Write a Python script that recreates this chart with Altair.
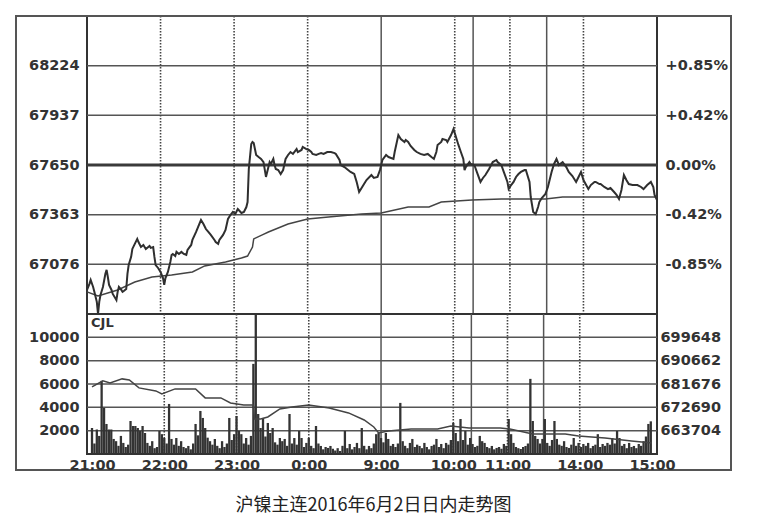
import altair as alt
import pandas as pd

# ---------------- axes / ticks ----------------
# x = trading minutes since 21:00 (night 21:00-1:00, day 9:00-10:15, 10:30-11:30, 13:30-15:00)
time_ticks = [0, 60, 120, 180, 240, 300, 345, 405, 465]
time_labels = ["21:00", "22:00", "23:00", "0:00", "9:00", "10:00", "11:00", "14:00", "15:00"]
dotted_min = [60, 120, 180, 300, 345, 405]
solid_min = [240, 315, 375]

price_ticks = [67076, 67363, 67650, 67937, 68224]
pct_labels = ["-0.85%", "-0.42%", "0.00%", "+0.42%", "+0.85%"]
base_price = [67650]
price_domain = [66789, 68511]

vol_ticks = [2000, 4000, 6000, 8000, 10000]
vol_domain = [0, 12000]
oi_ticks = [663704, 672690, 681676, 690662, 699648]
oi_domain = [654718, 708634]

caption = "沪镍主连2016年6月2日日内走势图"

# ---------------- series ----------------
price_min = [0, 2, 3, 5, 6, 8, 9, 10, 11, 13, 15, 16, 17, 18, 20, 21, 23, 24, 25, 26,
             28, 29, 30, 32, 33, 34, 36, 37, 39, 41, 42, 44, 46, 48, 51, 52, 54, 55, 56, 58,
             60, 62, 63, 64, 66, 68, 69, 70, 72, 73, 75, 77, 79, 81, 82, 85, 86, 89, 91, 93,
             95, 97, 99, 101, 104, 105, 107, 108, 111, 113, 115, 117, 119, 121, 123, 126, 128, 130, 131, 132,
             134, 135, 136, 138, 140, 142, 144, 146, 148, 149, 150, 152, 153, 154, 156, 158, 160, 162, 164, 166,
             168, 171, 172, 175, 176, 179, 181, 183, 184, 187, 189, 191, 193, 196, 199, 202, 203, 206, 207, 210,
             213, 215, 218, 220, 222, 224, 226, 228, 232, 234, 237, 239, 240, 241, 244, 246, 250, 251, 254, 256,
             259, 260, 262, 264, 267, 269, 272, 275, 278, 281, 283, 285, 286, 289, 290, 293, 294, 297, 299, 301,
             303, 305, 307, 308, 309, 312, 313, 316, 318, 321, 323, 325, 328, 331, 334, 335, 338, 340, 343, 344,
             346, 348, 350, 352, 354, 357, 358, 361, 362, 364, 366, 368, 369, 371, 374, 376, 377, 379, 381, 383,
             385, 387, 388, 391, 393, 396, 399, 401, 403, 405, 409, 411, 414, 415, 418, 419, 422, 425, 427, 430,
             432, 434, 436, 438, 440, 442, 445, 449, 452, 454, 457, 460, 462, 463, 465]
price_val = [66928, 66963, 66986, 66945, 66917, 66859, 66790, 66859, 66899, 66945, 67021, 67044, 67003, 66957, 66928, 66905, 66882, 66870, 66917, 66945,
             66928, 66917, 66922, 66934, 67021, 67072, 67119, 67165, 67194, 67223, 67205, 67176, 67188, 67165, 67182, 67171, 67176, 67119, 67072, 67055,
             67032, 66997, 66957, 66997, 67032, 67090, 67130, 67136, 67124, 67148, 67136, 67148, 67136, 67130, 67159, 67188, 67217, 67263, 67298, 67332,
             67309, 67280, 67263, 67246, 67217, 67205, 67194, 67217, 67246, 67275, 67338, 67361, 67379, 67367, 67396, 67373, 67379, 67407, 67436, 67627,
             67771, 67783, 67777, 67708, 67696, 67685, 67667, 67581, 67638, 67667, 67656, 67685, 67650, 67627, 67621, 67598, 67621, 67685, 67708, 67725,
             67714, 67742, 67725, 67737, 67754, 67742, 67737, 67725, 67714, 67708, 67714, 67719, 67714, 67725, 67725, 67719, 67714, 67679, 67650, 67638,
             67621, 67610, 67598, 67552, 67494, 67517, 67540, 67563, 67592, 67575, 67581, 67621, 67650, 67679, 67708, 67696, 67685, 67725, 67823, 67800,
             67783, 67794, 67783, 67760, 67737, 67725, 67714, 67708, 67714, 67696, 67685, 67725, 67766, 67783, 67800, 67794, 67783, 67823, 67858, 67812,
             67766, 67725, 67685, 67621, 67638, 67667, 67656, 67650, 67610, 67552, 67575, 67592, 67627, 67667, 67679, 67667, 67650, 67610, 67552, 67511,
             67534, 67552, 67581, 67598, 67610, 67621, 67621, 67552, 67465, 67379, 67367, 67407, 67436, 67459, 67483, 67523, 67552, 67610, 67656, 67685,
             67650, 67662, 67667, 67638, 67610, 67586, 67552, 67581, 67610, 67563, 67511, 67534, 67552, 67552, 67540, 67540, 67523, 67511, 67517, 67494,
             67477, 67454, 67506, 67592, 67563, 67540, 67534, 67534, 67523, 67511, 67534, 67552, 67523, 67477, 67448]

avg_min = [0, 9, 25, 39, 53, 69, 86, 96, 113, 126, 131, 135, 136, 143, 148, 164, 180, 197, 224, 240,
           262, 279, 289, 314, 338, 374, 388, 465]
avg_val = [66917, 66893, 66928, 66974, 67003, 67015, 67032, 67067, 67090, 67113, 67124, 67176, 67223, 67246, 67263, 67309, 67338, 67350, 67367, 67373,
           67407, 67407, 67436, 67448, 67454, 67454, 67465, 67465]

oi_min = [0, 9, 15, 25, 31, 39, 53, 58, 69, 86, 94, 107, 115, 126, 134, 135, 140, 146, 156, 166,
          180, 197, 213, 226, 234, 238, 246, 265, 287, 298, 313, 339, 347, 366, 393, 404, 426, 448, 465]
oi_val = [680560, 682874, 682103, 683646, 683260, 680174, 679017, 677860, 679789, 679789,
          676317, 676317, 674389, 673617, 673617, 668218, 668218, 668989, 672075, 672846,
          673617, 672460, 670532, 667832, 665132, 662818, 663589, 664361, 664361, 665518,
          664746, 664746, 664361, 662432, 662432, 661661, 660889, 659732, 658961]

# volume per 2-minute slot
vol_val = [2230, 900, 2100, 1550, 6270, 3950, 2575, 2100, 2100, 1290, 1100, 700, 1550, 950, 600, 800, 2830, 2400, 2400, 2230,
           1970, 2400, 1800, 950, 700, 1100, 500, 600, 1970, 1700, 1370, 900, 4290, 1290, 800, 1370, 700, 1100, 600, 500,
           690, 400, 900, 2575, 1600, 3690, 3090, 2230, 1400, 1100, 800, 1290, 700, 500, 1100, 600, 900, 3090, 1200, 1700,
           3260, 1970, 1700, 900, 1370, 800, 1550, 7725, 12500, 3430, 2230, 3090, 1500, 2660, 1800, 2230, 1000, 800, 1370, 1100,
           1290, 700, 3430, 900, 1370, 800, 1970, 1370, 600, 950, 1370, 700, 500, 2400, 900, 690, 400, 600, 520, 690,
           450, 300, 500, 260, 700, 1970, 500, 860, 400, 600, 950, 500, 2230, 700, 400, 690, 500, 900, 1700, 1800,
           1370, 1000, 1800, 1290, 700, 860, 600, 900, 4380, 1100, 700, 500, 950, 1290, 600, 800, 690, 500, 950, 600,
           400, 690, 800, 1290, 600, 860, 500, 950, 800, 1200, 2660, 1800, 1100, 3000, 1200, 1970, 800, 1370, 860, 600,
           700, 1550, 1100, 950, 600, 500, 690, 400, 520, 600, 450, 860, 700, 3000, 1700, 950, 600, 500, 430, 600,
           690, 900, 6440, 2830, 1550, 1290, 900, 1290, 3000, 950, 700, 1200, 2830, 1290, 800, 700, 1100, 600, 520, 800,
           1370, 700, 950, 600, 860, 700, 950, 500, 690, 800, 1700, 600, 860, 700, 950, 800, 1370, 900, 1970, 1370,
           700, 860, 500, 950, 600, 690, 500, 860, 700, 1100, 1500, 2575, 2800]
vol_min = list(range(0, 2 * len(vol_val), 2))

assert len(price_min) == len(price_val)
assert len(avg_min) == len(avg_val)
assert len(oi_min) == len(oi_val)

# ---------------- styling ----------------
FONT = "DejaVu Sans"
INK = "#333333"
GRID = "#555555"
W, PH, VH = 570, 298, 140


def expr_map(vals, labels):
    e = "''"
    for v, l in zip(vals, labels):
        e = f"datum.value == {v} ? '{l}' : ({e})"
    return e


price_df = pd.DataFrame({"m": price_min, "p": price_val})
avg_df = pd.DataFrame({"m": avg_min, "p": avg_val})
oi_df = pd.DataFrame({"m": oi_min, "o": oi_val})
vol_df = pd.DataFrame({"m": vol_min, "v": vol_val})
ptick_df = pd.DataFrame({"p": price_ticks})
base_df = pd.DataFrame({"p": base_price})
vtick_df = pd.DataFrame({"v": vol_ticks})
dotted_df = pd.DataFrame({"m": dotted_min})
solid_df = pd.DataFrame({"m": solid_min})

xs = alt.Scale(domain=[0, 465], nice=False, zero=False)
ps = alt.Scale(domain=price_domain, nice=False, zero=False)
vs = alt.Scale(domain=vol_domain, nice=False, zero=False)
os_ = alt.Scale(domain=oi_domain, nice=False, zero=False)

# ---------------- price panel ----------------
X_P = alt.X("m:Q", scale=xs, axis=None, title=None)
left_axis = alt.Axis(values=price_ticks, format="d", orient="left", labelPadding=8)
right_axis = alt.Axis(values=price_ticks, orient="right", labelPadding=8,
                      labelExpr=expr_map(price_ticks, pct_labels))

p_grid = alt.Chart(ptick_df).mark_rule(color=GRID, strokeWidth=1.5).encode(
    y=alt.Y("p:Q", scale=ps, axis=right_axis, title=None))
p_dot = alt.Chart(dotted_df).mark_rule(color="#444444", strokeWidth=1.6, strokeDash=[1.5, 1.5]).encode(x=X_P)
p_sol = alt.Chart(solid_df).mark_rule(color=GRID, strokeWidth=1.5).encode(x=X_P)
p_base = alt.Chart(base_df).mark_rule(color="#3a3a3a", strokeWidth=3).encode(
    y=alt.Y("p:Q", scale=ps, axis=None))
p_avg = alt.Chart(avg_df).mark_line(color="#444444", strokeWidth=1.5).encode(
    x=X_P, y=alt.Y("p:Q", scale=ps, axis=None))
p_line = alt.Chart(price_df).mark_line(color="#2f2f2f", strokeWidth=2).encode(
    x=X_P, y=alt.Y("p:Q", scale=ps, axis=left_axis, title=None))
frame = alt.Chart(alt.Data(values=[{}])).mark_rect(
    fillOpacity=0, stroke="#555555", strokeWidth=2, clip=False).encode(
    x=alt.value(-71), x2=alt.value(644), y=alt.value(0), y2=alt.value(454))

price_panel = alt.layer(p_grid, p_dot, p_sol, p_base, p_avg, p_line, frame).resolve_scale(
    y="independent").properties(width=W, height=PH)

# ---------------- volume panel ----------------
x_axis = alt.Axis(values=time_ticks, orient="bottom", labelPadding=4, labelFlush=False,
                  labelOverlap=False, labelExpr=expr_map(time_ticks, time_labels))
X_V = alt.X("m:Q", scale=xs, axis=x_axis, title=None)

v_grid = alt.Chart(vtick_df).mark_rule(color=GRID, strokeWidth=1.5).encode(
    y=alt.Y("v:Q", scale=vs, axis=None))
v_dot = alt.Chart(dotted_df).mark_rule(color="#444444", strokeWidth=1.6, strokeDash=[1.5, 1.5]).encode(x=X_V)
v_sol = alt.Chart(solid_df).mark_rule(color=GRID, strokeWidth=1.5).encode(x=X_V)
v_bars = alt.Chart(vol_df).mark_bar(size=2.3, color="#333333", clip=True).encode(
    x=X_V,
    y=alt.Y("v:Q", scale=vs, title=None,
            axis=alt.Axis(values=vol_ticks, format="d", orient="left", labelPadding=8)))
v_oi = alt.Chart(oi_df).mark_line(color="#444444", strokeWidth=1.5).encode(
    x=X_V,
    y=alt.Y("o:Q", scale=os_, title=None,
            axis=alt.Axis(values=oi_ticks, format="d", orient="right", labelPadding=3)))
cjl = alt.Chart(alt.Data(values=[{}])).mark_text(
    text="CJL", align="left", baseline="top", font=FONT, fontWeight="bold",
    fontSize=13, color=INK).encode(x=alt.value(4), y=alt.value(3))

vol_panel = alt.layer(v_grid, v_dot, v_sol, v_bars, v_oi, cjl).resolve_scale(
    y="independent").properties(width=W, height=VH)

chart = alt.vconcat(price_panel, vol_panel, spacing=0, bounds="flush").properties(
    padding={"left": 6, "top": 6, "right": 5, "bottom": 5},
    background="white",
    title=alt.TitleParams(text=caption, orient="bottom", anchor="middle", offset=24,
                          font="Noto Sans CJK SC", fontSize=18, fontWeight="normal",
                          color="#222222"),
).configure_view(stroke="#333333", strokeWidth=2).configure_axis(
    labelFont=FONT, labelFontWeight="bold", labelFontSize=14.5, labelColor=INK,
    ticks=False, domain=False, grid=False)

chart.save("out.html", embed_options={"renderer": "svg", "actions": False})
